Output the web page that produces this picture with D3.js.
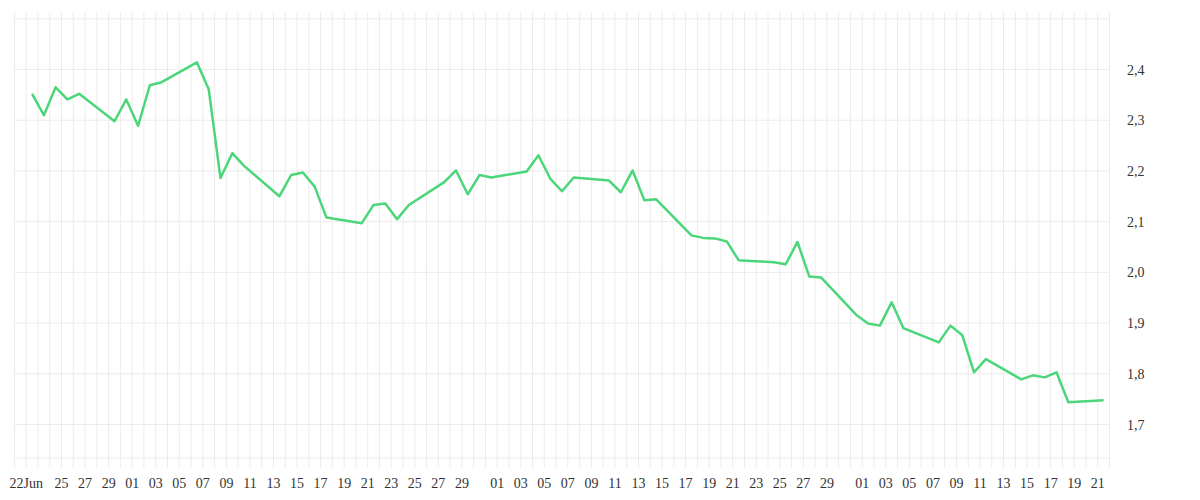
<!DOCTYPE html>
<html>
<head>
<meta charset="utf-8">
<script src="https://cdn.jsdelivr.net/npm/d3@7"></script>
<style>
  body { margin: 0; background: #fff; }
  text { font-family: "Liberation Serif", serif; font-size: 14px; fill: #333; }
</style>
</head>
<body>
<svg id="chart" width="1200" height="500"></svg>
<script>
// trading days (weekdays) and values
const dates = [
  '2020-06-22','2020-06-23','2020-06-24','2020-06-25','2020-06-26',
  '2020-06-29','2020-06-30','2020-07-01','2020-07-02','2020-07-03',
  '2020-07-06','2020-07-07','2020-07-08','2020-07-09','2020-07-10',
  '2020-07-13','2020-07-14','2020-07-15','2020-07-16','2020-07-17',
  '2020-07-20','2020-07-21','2020-07-22','2020-07-23','2020-07-24',
  '2020-07-27','2020-07-28','2020-07-29','2020-07-30','2020-07-31',
  '2020-08-03','2020-08-04','2020-08-05','2020-08-06','2020-08-07',
  '2020-08-10','2020-08-11','2020-08-12','2020-08-13','2020-08-14',
  '2020-08-17','2020-08-18','2020-08-19','2020-08-20','2020-08-21',
  '2020-08-24','2020-08-25','2020-08-26','2020-08-27','2020-08-28',
  '2020-08-31','2020-09-01','2020-09-02','2020-09-03','2020-09-04',
  '2020-09-07','2020-09-08','2020-09-09','2020-09-10','2020-09-11',
  '2020-09-14','2020-09-15','2020-09-16','2020-09-17','2020-09-18',
  '2020-09-21'
];
const values = [
  2.352, 2.310, 2.365, 2.341, 2.352,
  2.298, 2.341, 2.289, 2.369, 2.375,
  2.414, 2.361, 2.186, 2.235, 2.210,
  2.150, 2.192, 2.197, 2.169, 2.108,
  2.097, 2.133, 2.136, 2.105, 2.133,
  2.178, 2.201, 2.154, 2.192, 2.187,
  2.199, 2.231, 2.185, 2.160, 2.187,
  2.181, 2.158, 2.201, 2.142, 2.144,
  2.073, 2.068, 2.067, 2.061, 2.024,
  2.020, 2.016, 2.060, 1.992, 1.990,
  1.916, 1.899, 1.895, 1.941, 1.890,
  1.862, 1.895, 1.876, 1.803, 1.829,
  1.789, 1.797, 1.793, 1.803, 1.744,
  1.748
];
const yTicks = [1.7, 1.8, 1.9, 2.0, 2.1, 2.2, 2.3, 2.4, 2.5];

const svg = d3.select('#chart');
const DAY = 864e5;
const parse = d3.utcParse('%Y-%m-%d');
const pts = dates.map((d, i) => ({ t: parse(d), v: values[i] }));

let x = d3.scaleUtc()
  .domain([parse('2020-06-22'), parse('2020-09-22')])
  .range([26.2, 1109.5]);
let y = d3.scaleLinear().domain([1.634, 2.5]).range([458, 18.8]);

// vertical grid, one per day
let days = d3.utcDay.range(parse('2020-06-21'), new Date(parse('2020-09-22').getTime() + 1));
svg.append('g').selectAll('line').data(days).enter().append('line')
  .attr('x1', (d) => x(d)).attr('x2', (d) => x(d))
  .attr('y1', 12).attr('y2', 468)
  .attr('stroke', '#ececec').attr('stroke-width', 1);

// horizontal grid
svg.append('g').selectAll('line').data(yTicks.concat([1.634])).enter().append('line')
  .attr('x1', x(parse('2020-06-21'))).attr('x2', x(parse('2020-09-22')))
  .attr('y1', (d) => y(d)).attr('y2', (d) => y(d))
  .attr('stroke', '#ececec').attr('stroke-width', 1);

// y labels
svg.append('g').selectAll('text').data(yTicks.slice(0, -1)).enter().append('text')
  .attr('x', 1127).attr('y', (d) => y(d) + 5)
  .text((d) => d.toFixed(1).replace('.', ','));

// x labels: odd days, plus the start date
let xTicks = days.filter((d) => {
  let dd = d.getUTCDate();
  if (d < parse('2020-06-22')) return false;
  if (+d == +parse('2020-06-22')) return true;
  return dd % 2 == 1 && dd < 30 && dd > 23 || (dd % 2 == 1 && dd < 30 && d >= parse('2020-07-01'));
});
svg.append('g').selectAll('text').data(xTicks).enter().append('text')
  .attr('x', (d) => x(d)).attr('y', 488)
  .attr('text-anchor', 'middle')
  .text((d) => +d == +parse('2020-06-22') ? '22Jun' : d3.utcFormat('%d')(d));

// the series, placed at midday
let line = d3.line()
  .x((d) => x(new Date(d.t.getTime() + DAY / 2)))
  .y((d) => y(d.v));
svg.append('path').datum(pts)
  .attr('d', line)
  .attr('fill', 'none')
  .attr('stroke', '#4cd67a')
  .attr('stroke-width', 2.5)
  .attr('stroke-linejoin', 'round');
</script>
</body>
</html>
